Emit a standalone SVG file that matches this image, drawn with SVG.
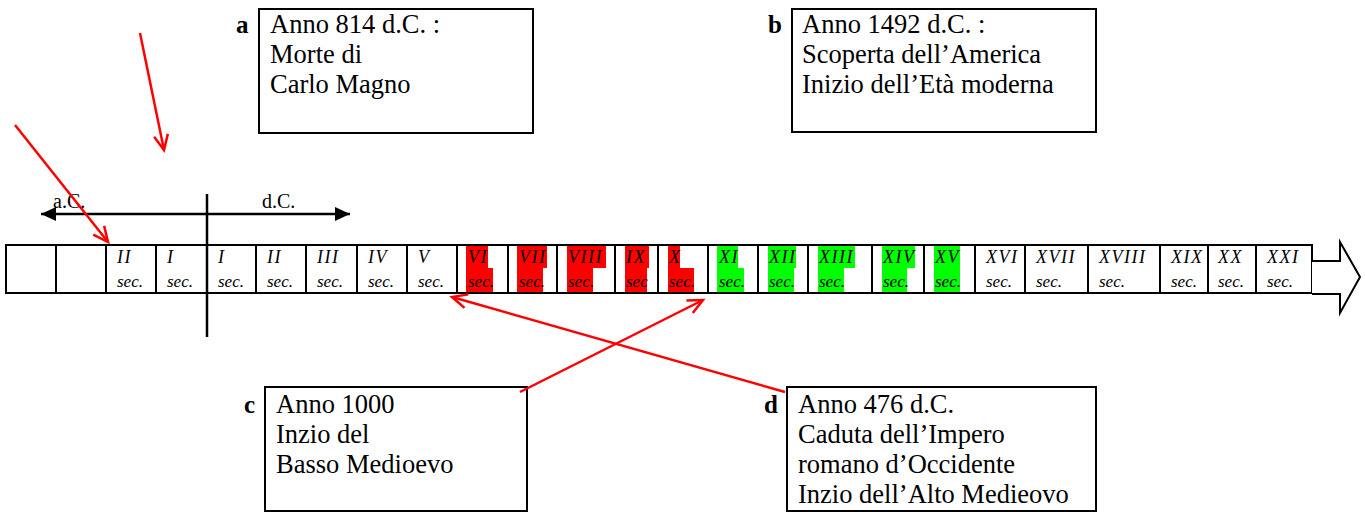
<svg xmlns="http://www.w3.org/2000/svg" width="1365" height="512" viewBox="0 0 1365 512">
<style>
.box{fill:#fff;stroke:#000;stroke-width:2}
.bt{font-family:"Liberation Serif","Times New Roman",serif;font-size:26.5px;fill:#000}
.lbl{font-family:"Liberation Serif","Times New Roman",serif;font-size:25px;font-weight:bold;fill:#000}
.ct{font-family:"Liberation Serif","Times New Roman",serif;font-size:17px;font-style:italic;fill:#000}
.nm{font-size:18px;letter-spacing:1.5px}
.ax{font-family:"Liberation Serif","Times New Roman",serif;font-size:20px;fill:#000}
.cell{fill:none;stroke:#000;stroke-width:2}
.red{fill:#ff0000}
.grn{fill:#00ff00}
.conn{stroke:#ff0000;stroke-width:2.5;fill:none}
</style>
<defs>
<marker id="ra" markerUnits="userSpaceOnUse" markerWidth="20" markerHeight="20" refX="16" refY="8" orient="auto" viewBox="0 0 20 16">
<path d="M1,1 L16,8 L1,15" fill="none" stroke="#ff0000" stroke-width="2.5"/>
</marker>
<marker id="ba" markerUnits="userSpaceOnUse" markerWidth="16" markerHeight="14" refX="15" refY="7" orient="auto-start-reverse" viewBox="0 0 16 14">
<path d="M0,0 L15,7 L0,14 Z" fill="#000"/>
</marker>
</defs>

<g id="timeline">
<g id="highlights">
<rect class="red" x="466" y="245" width="22" height="23"/><rect class="red" x="466" y="268" width="27" height="25"/>
<rect class="red" x="517" y="245" width="30" height="23"/><rect class="red" x="517" y="268" width="26" height="25"/>
<rect class="red" x="567" y="245" width="39" height="23"/><rect class="red" x="567" y="268" width="26" height="25"/>
<rect class="red" x="625" y="245" width="24" height="23"/><rect class="red" x="625" y="268" width="22" height="25"/>
<rect class="red" x="668" y="245" width="12" height="23"/><rect class="red" x="668" y="268" width="26" height="25"/>
<rect class="grn" x="717" y="245" width="21" height="23"/><rect class="grn" x="717" y="268" width="27" height="25"/>
<rect class="grn" x="768" y="245" width="28" height="23"/><rect class="grn" x="768" y="268" width="26" height="25"/>
<rect class="grn" x="818" y="245" width="37" height="23"/><rect class="grn" x="818" y="268" width="26" height="25"/>
<rect class="grn" x="882" y="245" width="33" height="23"/><rect class="grn" x="882" y="268" width="25" height="25"/>
<rect class="grn" x="934" y="245" width="26" height="23"/><rect class="grn" x="934" y="268" width="26" height="25"/>
</g>
<rect class="cell" x="6" y="245" width="1306" height="48"/>
<path class="cell" d="M56,245V293M106,245V293M156,245V293M256,245V293M306,245V293M357,245V293M407,245V293M457,245V293M508,245V293M557,245V293M615,245V293M658,245V293M708,245V293M758,245V293M808,245V293M872,245V293M924,245V293M975,245V293M1025,245V293M1088,245V293M1160,245V293M1208,245V293M1256,245V293"/>
<path d="M1312,261 H1340 V242 L1360,277 L1340,313 V294 H1312" fill="#fff" stroke="#000" stroke-width="2" stroke-linejoin="miter"/>
<g class="ct">
<text class="nm" x="117" y="263">II</text><text x="117" y="287">sec.</text>
<text class="nm" x="167" y="263">I</text><text x="167" y="287">sec.</text>
<text class="nm" x="218" y="263">I</text><text x="218" y="287">sec.</text>
<text class="nm" x="267" y="263">II</text><text x="267" y="287">sec.</text>
<text class="nm" x="317" y="263">III</text><text x="317" y="287">sec.</text>
<text class="nm" x="368" y="263">IV</text><text x="368" y="287">sec.</text>
<text class="nm" x="418" y="263">V</text><text x="418" y="287">sec.</text>
<text class="nm" x="468" y="263">VI</text><text x="468" y="287">sec.</text>
<text class="nm" x="519" y="263">VII</text><text x="519" y="287">sec.</text>
<text class="nm" x="568" y="263">VIII</text><text x="568" y="287">sec.</text>
<text class="nm" x="626" y="263">IX</text><text x="626" y="287">sec</text>
<text class="nm" x="669" y="263">X</text><text x="669" y="287">sec.</text>
<text class="nm" x="719" y="263">XI</text><text x="719" y="287">sec.</text>
<text class="nm" x="769" y="263">XII</text><text x="769" y="287">sec.</text>
<text class="nm" x="819" y="263">XIII</text><text x="819" y="287">sec.</text>
<text class="nm" x="883" y="263">XIV</text><text x="883" y="287">sec.</text>
<text class="nm" x="935" y="263">XV</text><text x="935" y="287">sec.</text>
<text class="nm" x="986" y="263">XVI</text><text x="986" y="287">sec.</text>
<text class="nm" x="1036" y="263">XVII</text><text x="1036" y="287">sec.</text>
<text class="nm" x="1099" y="263">XVIII</text><text x="1099" y="287">sec.</text>
<text class="nm" x="1171" y="263">XIX</text><text x="1171" y="287">sec.</text>
<text class="nm" x="1218" y="263">XX</text><text x="1218" y="287">sec.</text>
<text class="nm" x="1267" y="263">XXI</text><text x="1267" y="287">sec.</text>
</g>
</g>

<g id="era-axis">
<line x1="207" y1="194" x2="207" y2="337" stroke="#000" stroke-width="2.5"/>
<line x1="41" y1="214" x2="350" y2="214" stroke="#000" stroke-width="2.5" marker-start="url(#ba)" marker-end="url(#ba)"/>
<text class="ax" x="53" y="208">a.C.</text>
<text class="ax" x="262" y="208">d.C.</text>
</g>

<g id="node-a">
<rect class="box" x="259" y="9" width="274" height="124"/>
<text class="lbl" x="236" y="33">a</text>
<text class="bt" x="270" y="33">Anno 814 d.C. :</text>
<text class="bt" x="270" y="63">Morte di</text>
<text class="bt" x="270" y="93">Carlo Magno</text>
</g>

<g id="node-b">
<rect class="box" x="792" y="9" width="304" height="123"/>
<text class="lbl" x="768" y="33">b</text>
<text class="bt" x="802" y="33">Anno 1492 d.C. :</text>
<text class="bt" x="802" y="63">Scoperta dell’America</text>
<text class="bt" x="802" y="93">Inizio dell’Età moderna</text>
</g>

<g id="node-c">
<rect class="box" x="265" y="387" width="262" height="124"/>
<text class="lbl" x="244" y="413">c</text>
<text class="bt" x="276" y="413">Anno 1000</text>
<text class="bt" x="276" y="443">Inzio del</text>
<text class="bt" x="276" y="473">Basso Medioevo</text>
</g>

<g id="node-d">
<rect class="box" x="787" y="387" width="309" height="124"/>
<text class="lbl" x="764" y="413">d</text>
<text class="bt" x="798" y="413">Anno 476 d.C.</text>
<text class="bt" x="798" y="443">Caduta dell’Impero</text>
<text class="bt" x="798" y="473">romano d’Occidente</text>
<text class="bt" x="798" y="503">Inzio dell’Alto Medieovo</text>
</g>

<g id="connectors">
<line class="conn" x1="15" y1="125" x2="108" y2="242" marker-end="url(#ra)"/>
<line class="conn" x1="140" y1="33" x2="164" y2="150" marker-end="url(#ra)"/>
<line class="conn" x1="785" y1="392" x2="452" y2="297" marker-end="url(#ra)"/>
<line class="conn" x1="520" y1="392" x2="703" y2="300" marker-end="url(#ra)"/>
</g>
</svg>
